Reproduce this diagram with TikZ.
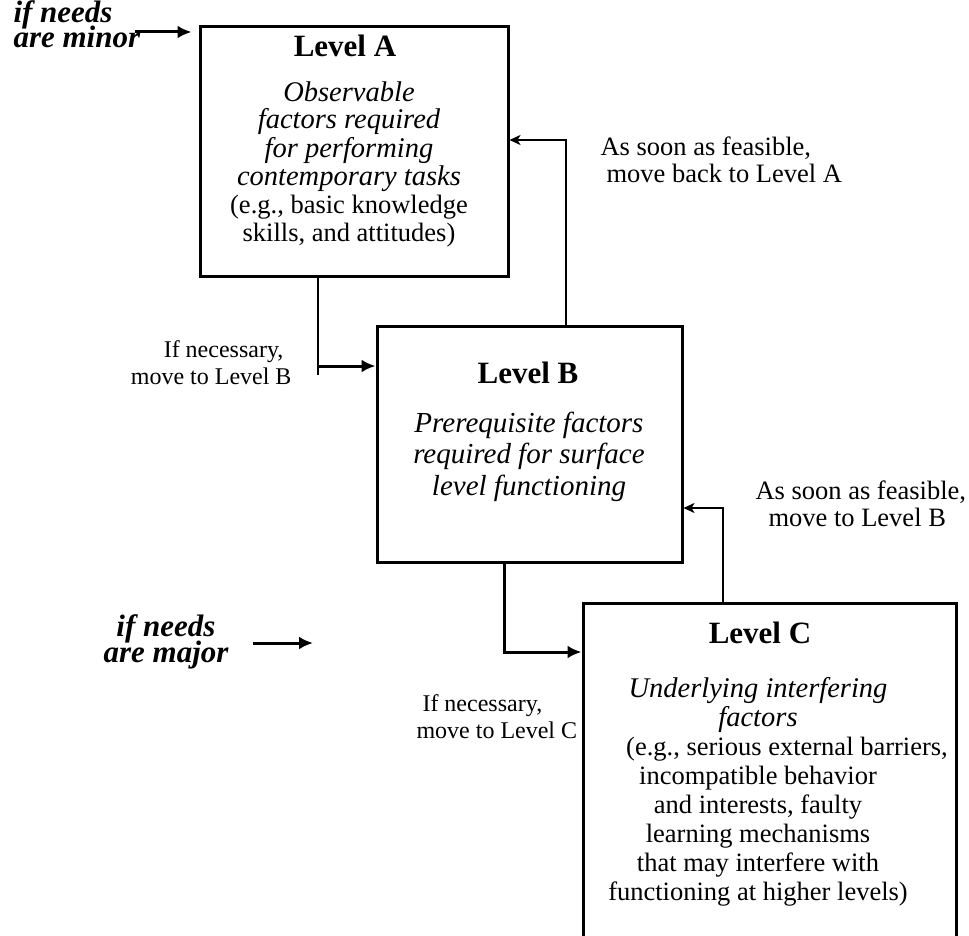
\documentclass[tikz,border=0pt]{standalone}
\usepackage{fontspec}
\setmainfont{Liberation Serif}
\usetikzlibrary{arrows.meta}
\newcommand{\itline}[1]{{\fontsize{28.5}{28}\selectfont\itshape #1}}

\begin{document}
\begin{tikzpicture}[x=1pt,y=-1pt,
    box/.style={draw,line width=3pt,inner sep=0pt},
    title/.style={anchor=base,font=\fontsize{31}{31}\selectfont\bfseries},
    body/.style={anchor=base,align=center,font=\fontsize{26.5}{28}\selectfont},
    note/.style={anchor=base west,align=left,font=\fontsize{24}{27}\selectfont},
    bignote/.style={note,font=\fontsize{26.5}{27}\selectfont},
    needs/.style={anchor=base west,align=left,font=\fontsize{31}{22}\selectfont\bfseries\itshape},
    conn/.style={line width=2.2pt},
    back/.style={conn,-{Stealth[length=11pt,width=10pt,inset=3pt]}},
    fwd/.style={line width=3pt,-{Latex[length=14pt,width=13pt]}}]
    \useasboundingbox (0,0) rectangle (969,936);
    \node[box,minimum width=308pt,minimum height=249pt] (A) at (354,151.5) {};
    \node[box,minimum width=305pt,minimum height=236pt] (B) at (529.5,444) {};
    \node[box,minimum width=373pt,minimum height=357pt] (C) at (769.5,781.5) {};
    \node[title] (titleA) at (345,57) {Level A};
    \node[title] (titleB) at (528,383) {Level B};
    \node[title] (titleC) at (760,643) {Level C};
    \node[body] (textA) at (349,241) {\itline{Observable}\\ \itline{factors required}\\ \itline{for performing}\\ \itline{contemporary tasks}\\ (e.g., basic knowledge\\ skills, and attitudes)};
    \node[body,font=\fontsize{29}{31.5}\selectfont\itshape] (textB) at (529,495) {Prerequisite factors\\ required for surface\\ level functioning};
    \node[body,font=\fontsize{26.5}{28.9}\selectfont] (textC) at (758,900) {\itline{Underlying interfering}\\ \itline{factors}\\ \hspace*{58pt}(e.g., serious external barriers,\\ incompatible behavior\\ and interests, faulty\\ learning mechanisms\\ that may interfere with\\ functioning at higher levels)};
    \node[note,anchor=base east,align=right] (toB) at (295,384) {If necessary,\hspace*{8pt}\\ move to Level B};
    \node[bignote] (toA) at (597,183) {As soon as feasible,\\ \hspace*{6pt}move back to Level A};
    \node[note] (toC) at (413,738) {\hspace*{6pt}If necessary,\\ move to Level C};
    \node[bignote] (backB) at (752,526) {As soon as feasible,\\ \hspace*{13pt}move to Level B};
    \node[needs] (minor) at (10,48) {if needs\\[-4pt] are minor};
    \node[needs,align=center,anchor=base] (major) at (166,662) {if needs\\[-4pt] are major};
    \coordinate (AB) at (318,366);
    \draw[conn] (A.south -| AB) -- ([yshift=-9pt]AB);
    \draw[fwd] (AB) -- (AB -| B.west);
    \coordinate (BA) at (566,140);
    \draw[back] (B.north -| BA) |- (A.east |- BA);
    \coordinate (BC) at (504,652);
    \draw[conn,line width=3pt] (B.south -| BC) -- ([yshift=-1.5pt]BC);
    \draw[fwd] (BC) -- (BC -| C.west);
    \coordinate (CB) at (723,508);
    \draw[back] (C.north -| CB) |- (B.east |- CB);
    \coordinate (minorTail) at (135,32);
    \draw[fwd,shorten >=7pt] (minorTail) -- (A.west |- minorTail);
    \coordinate (majorTail) at (253,643);
    \coordinate (majorTip) at (313,643);
    \draw[fwd] (majorTail) -- (majorTip);
\end{tikzpicture}
\end{document}
